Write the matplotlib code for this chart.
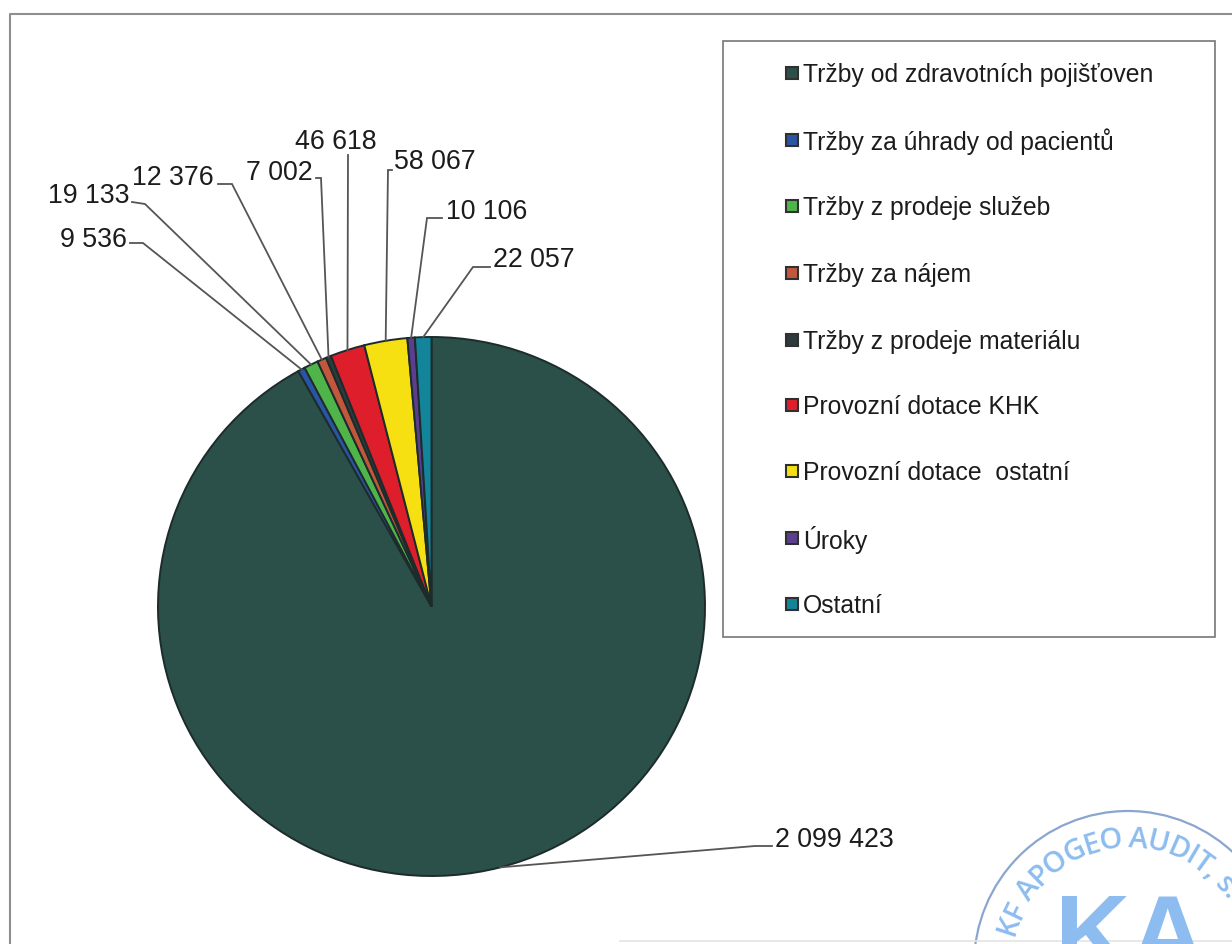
import numpy as np
import matplotlib
matplotlib.use('Agg')
import matplotlib.pyplot as plt
from matplotlib.patches import Rectangle, Circle

plt.rcParams['font.family'] = ['Liberation Sans', 'DejaVu Sans']

categories = ['Tržby od zdravotních pojišťoven', 'Tržby za úhrady od pacientů',
              'Tržby z prodeje služeb', 'Tržby za nájem', 'Tržby z prodeje materiálu',
              'Provozní dotace KHK', 'Provozní dotace  ostatní', 'Úroky', 'Ostatní']
values = [2099423, 9536, 19133, 12376, 7002, 46618, 58067, 10106, 22057]
value_labels = ['2 099 423', '9 536', '19 133', '12 376', '7 002',
                '46 618', '58 067', '10 106', '22 057']
colors = ['#2b5049', '#2a55a5', '#4fb54a', '#c2573c', '#2e3a3c',
          '#de1f2b', '#f7e012', '#5b3f8e', '#13859b']

W, H = 1232, 944
fig = plt.figure(figsize=(W / 100, H / 100), dpi=100)

# pie box in pixels (scan is a bit squashed vertically)
left, right, top, bottom = 158, 705, 337, 876
ax = fig.add_axes([left / W, 1 - bottom / H, (right - left) / W, (bottom - top) / H])
wedges, _ = ax.pie(values, colors=colors, startangle=90, counterclock=False, radius=1,
                   wedgeprops=dict(edgecolor='#1d2b2b', linewidth=1.4))
ax.set_aspect('auto')
ax.set_xlim(-1, 1)
ax.set_ylim(-1, 1)

# overlay in image pixels for frame, legend, labels and stamp
ov = fig.add_axes([0, 0, 1, 1], zorder=3)
ov.set_xlim(0, W)
ov.set_ylim(H, 0)
ov.axis('off')
ov.patch.set_alpha(0)

# outer frame
ov.plot([10, 10, W], [H, 14, 14], color='#8f8f8f', lw=1.5)
ov.plot([620, W], [941, 941], color='#e4e4e4', lw=1.2)

# legend
ov.add_patch(Rectangle((723, 41), 492, 596, fc='white', ec='#777777', lw=1.2))
legend_y = [73, 140, 206, 273, 340, 405, 471, 538, 604]
for y, name, c in zip(legend_y, categories, colors):
    ov.add_patch(Rectangle((786, y - 6), 12, 12, fc=c, ec='#303030', lw=1.5))
    ov.text(803, y + 2, name, fontsize=17.85, color='#1c1c1c', va='center', ha='left')

# value labels: text right/left edge and leader elbow in pixels
label_xy = [(775, 840), (127, 240), (129, 196), (214, 178), (313, 173),
            (377, 142), (394, 162), (446, 212), (493, 260)]
label_ha = ['left', 'right', 'right', 'right', 'right', 'right', 'left', 'left', 'left']
elbows = [[(772, 846), (755, 846)], [(130, 243), (143, 243)], [(132, 202), (145, 204)],
          [(218, 184), (232, 184)], [(316, 178), (321, 178)], [(348, 155)],
          [(392, 170), (388, 170)], [(442, 218), (427, 218)], [(490, 267), (473, 267)]]
cx, cy = (left + right) / 2, (top + bottom) / 2
rx, ry = (right - left) / 2, (bottom - top) / 2
for w, txt, xy, ha, pts in zip(wedges, value_labels, label_xy, label_ha, elbows):
    mid = np.radians((w.theta1 + w.theta2) / 2)
    xs = [p[0] for p in pts] + [cx + rx * np.cos(mid)]
    ys = [p[1] for p in pts] + [cy - ry * np.sin(mid)]
    ov.plot(xs, ys, color='#555555', lw=1.3, solid_joinstyle='miter')
    ov.text(xy[0], xy[1], txt, fontsize=19.3, color='#1c1c1c', ha=ha, va='center')

# auditor's stamp, runs off the page at the bottom right
stamp = '#8dbcf0'
ov.add_patch(Circle((1128, 965), 154, fc='none', ec='#8aa6d0', lw=1.6))
stamp_text = 'KF APOGEO AUDIT, s.'
renderer = fig.canvas.get_renderer()
ang = 166.0
for ch in stamp_text:
    t = ov.text(0, 0, ch if ch != ' ' else 'i', fontsize=21, fontweight='semibold', family='Open Sans')
    adv = t.get_window_extent(renderer).width
    t.remove()
    a = np.radians(ang - np.degrees(adv / 2 / 128))
    rot = np.degrees(a) - 90
    if ch != ' ':
        ov.text(1128 + 125 * np.cos(a), 965 - 125 * np.sin(a), ch, fontsize=21, color=stamp,
                fontweight='semibold', family='Open Sans', rotation=rot, rotation_mode='anchor',
                ha='center', va='center', clip_on=True)
    ang -= np.degrees(adv / 128)
ov.text(1130, 968, 'KA', fontsize=75, fontweight='bold', color=stamp, ha='center',
        va='baseline', clip_on=True)

fig.savefig('out.png', dpi=100, facecolor='white')
